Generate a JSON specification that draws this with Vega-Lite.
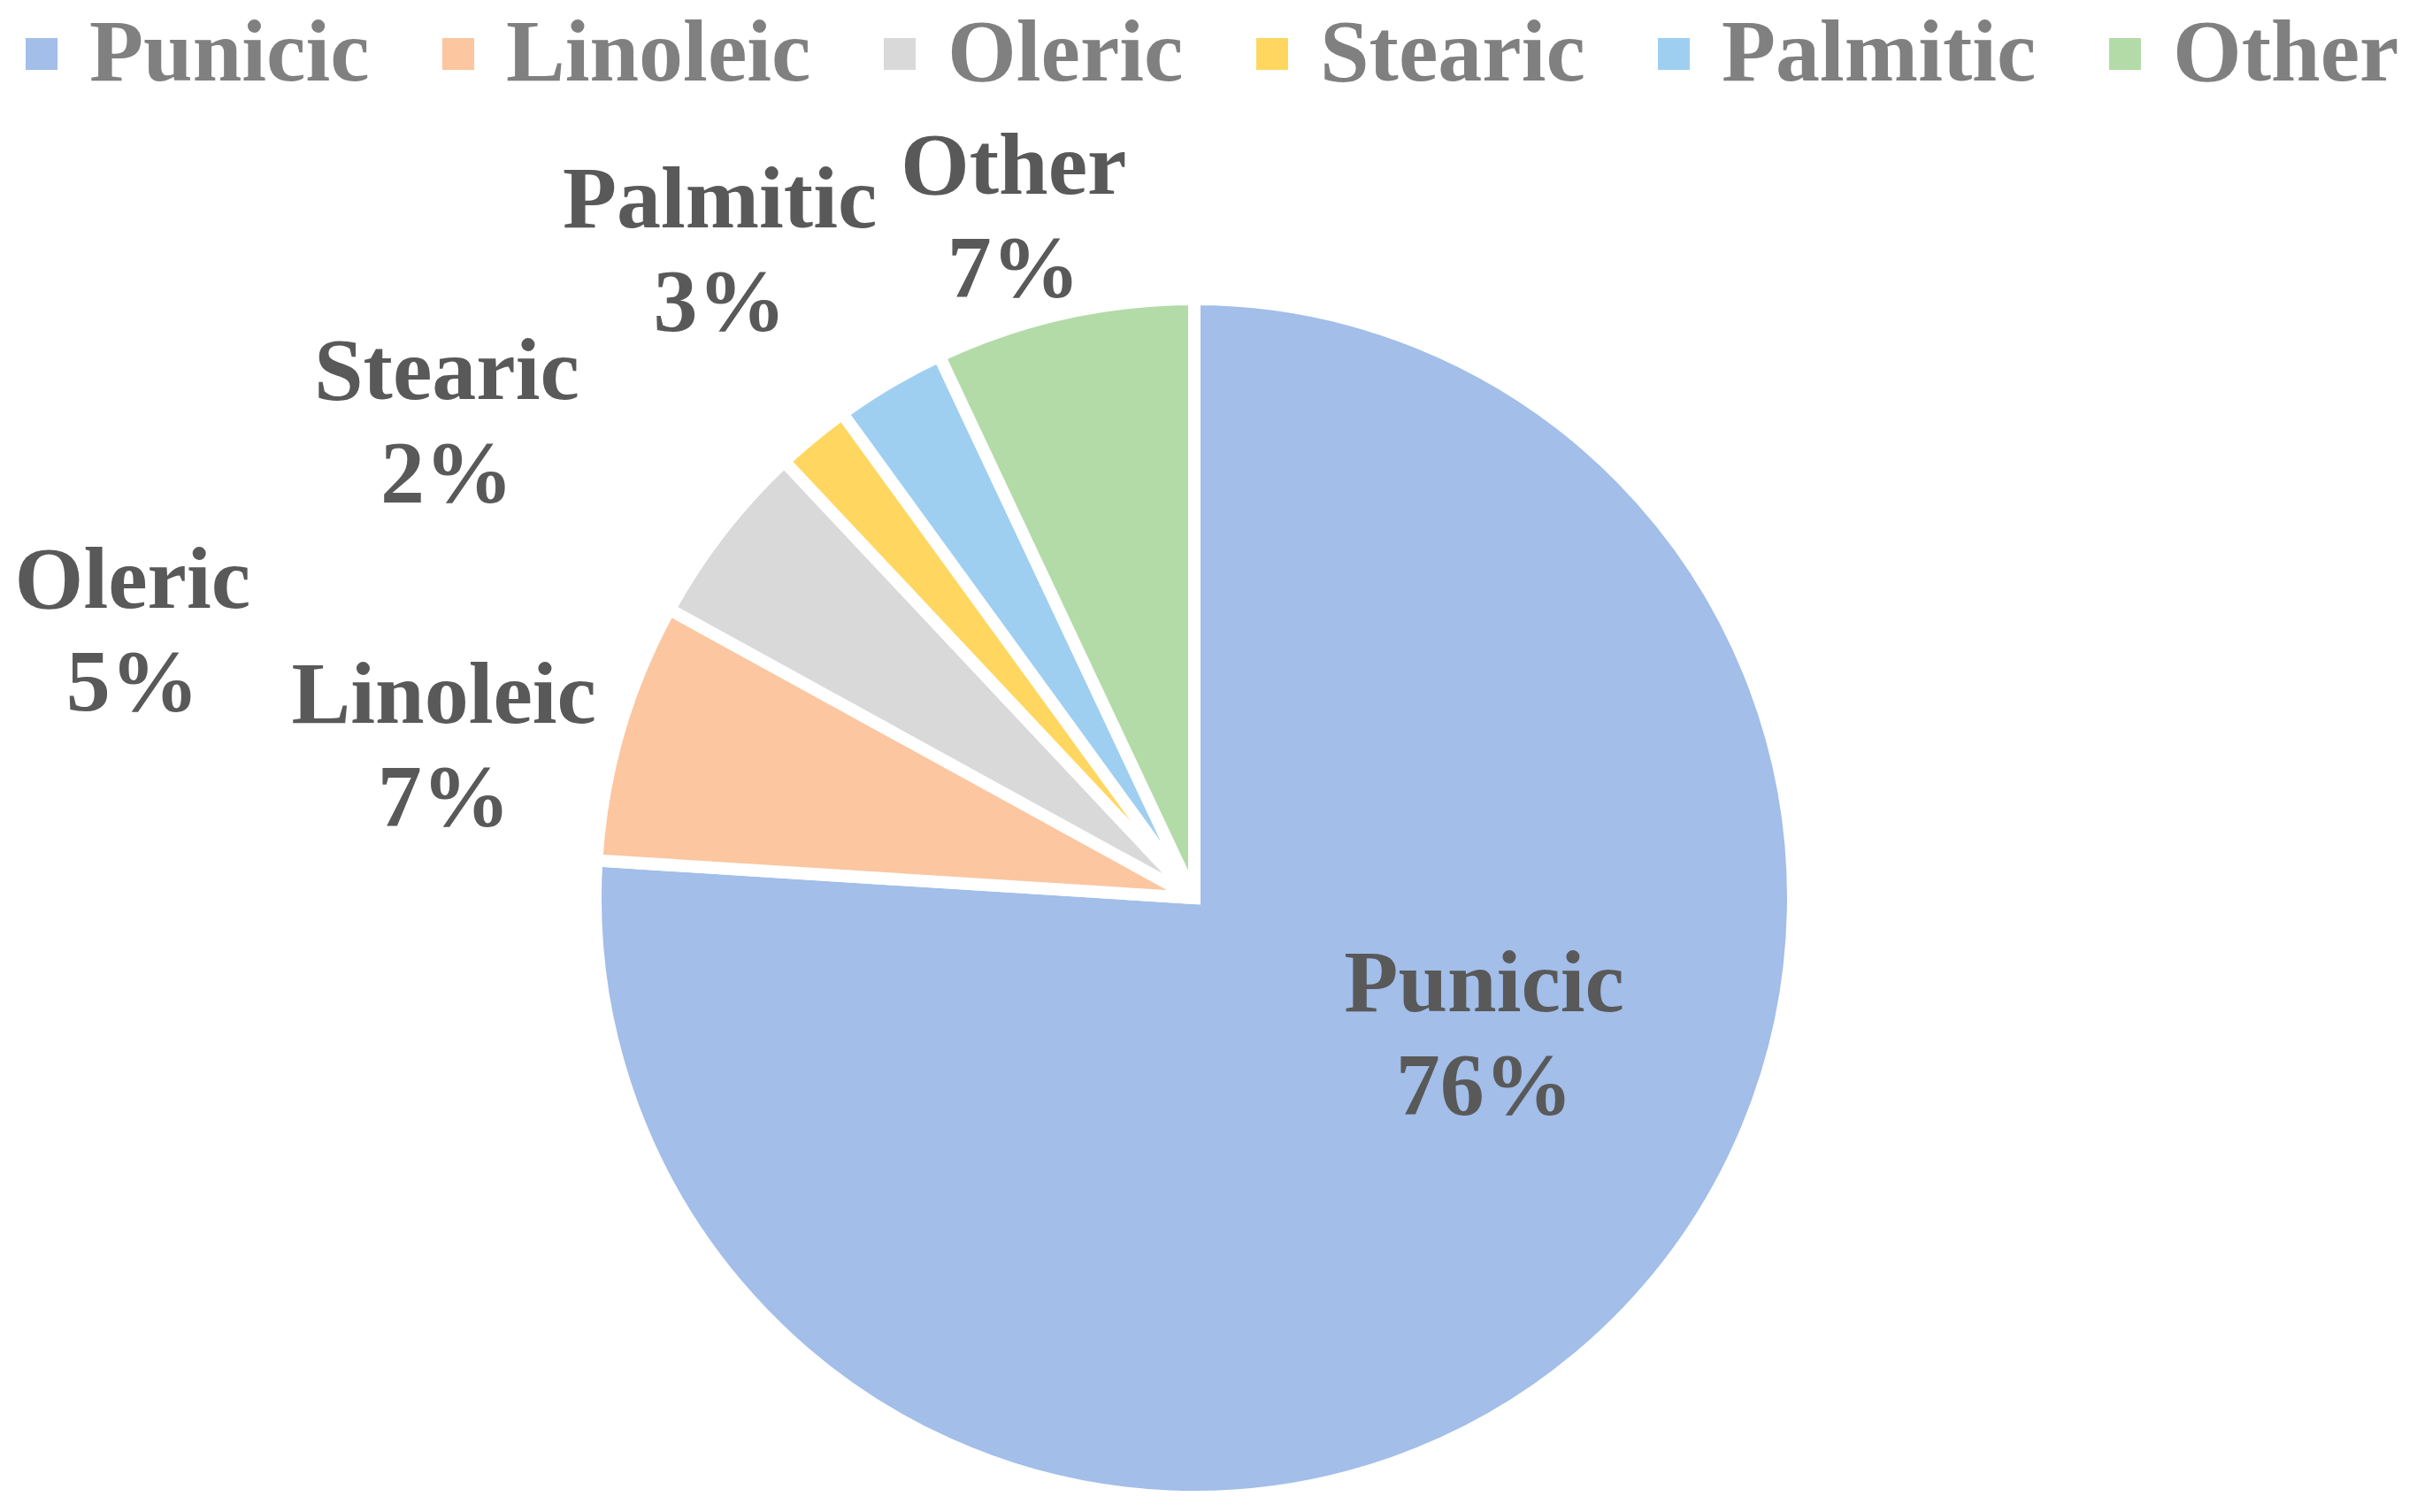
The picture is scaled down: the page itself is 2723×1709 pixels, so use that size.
{
  "$schema": "https://vega.github.io/schema/vega-lite/v6.json",
  "autosize": {"type": "none"},
  "width": 2700,
  "height": 1388,
  "padding": {"left": 0, "top": 321, "right": 23, "bottom": 0},
  "background": "white",
  "config": {"view": {"stroke": null}},
  "data": {
    "values": [
      {"acid": "Punicic", "share": 0.76, "ord": 1},
      {"acid": "Linoleic", "share": 0.07, "ord": 2},
      {"acid": "Oleric", "share": 0.05, "ord": 3},
      {"acid": "Stearic", "share": 0.02, "ord": 4},
      {"acid": "Palmitic", "share": 0.03, "ord": 5},
      {"acid": "Other", "share": 0.07, "ord": 6}
    ]
  },
  "encoding": {
    "theta": {"field": "share", "type": "quantitative", "stack": true},
    "order": {"field": "ord", "type": "quantitative"}
  },
  "layer": [
    {
      "mark": {"type": "arc", "outerRadius": 677, "stroke": "white", "strokeWidth": 14},
      "encoding": {
        "color": {
          "field": "acid", "type": "nominal",
          "scale": {
            "domain": ["Punicic", "Linoleic", "Oleric", "Stearic", "Palmitic", "Other"],
            "range": ["#A2BEE9", "#FCC6A0", "#D9D9D9", "#FFD760", "#9FCFF0", "#B3DBA8"]
          },
          "legend": {
            "title": null,
            "orient": "none",
            "legendX": -3,
            "legendY": -310,
            "direction": "horizontal",
            "columns": 6,
            "padding": 0,
            "symbolType": "square",
            "symbolSize": 1296,
            "symbolStrokeWidth": 0,
            "labelFont": "Liberation Serif",
            "labelFontWeight": "bold",
            "labelFontSize": 100,
            "labelColor": "#808080",
            "labelOffset": 4,
            "labelLimit": 0,
            "columnPadding": 50
          }
        }
      }
    },
    {
      "mark": {"type": "text", "radius": 363, "thetaOffset": -0.372, "dy": -58, "font": "Liberation Serif", "fontWeight": "bold", "fontSize": 100, "color": "#595959", "baseline": "middle", "align": "center"},
      "encoding": {"detail": {"field": "acid"}, "text": {"condition": {"test": "datum.acid === 'Punicic'", "field": "acid"}, "value": ""}}
    },
    {
      "mark": {"type": "text", "radius": 363, "thetaOffset": -0.372, "dy": 58, "font": "Liberation Serif", "fontWeight": "bold", "fontSize": 100, "color": "#595959", "baseline": "middle", "align": "center"},
      "encoding": {"detail": {"field": "acid"}, "text": {"condition": {"test": "datum.acid === 'Punicic'", "field": "share", "type": "quantitative", "format": ".0%"}, "value": ""}}
    },
    {
      "mark": {"type": "text", "radius": 865, "thetaOffset": -0.0855, "dy": -58, "font": "Liberation Serif", "fontWeight": "bold", "fontSize": 100, "color": "#595959", "baseline": "middle", "align": "center"},
      "encoding": {"detail": {"field": "acid"}, "text": {"condition": {"test": "datum.acid === 'Linoleic'", "field": "acid"}, "value": ""}}
    },
    {
      "mark": {"type": "text", "radius": 865, "thetaOffset": -0.0855, "dy": 58, "font": "Liberation Serif", "fontWeight": "bold", "fontSize": 100, "color": "#595959", "baseline": "middle", "align": "center"},
      "encoding": {"detail": {"field": "acid"}, "text": {"condition": {"test": "datum.acid === 'Linoleic'", "field": "share", "type": "quantitative", "format": ".0%"}, "value": ""}}
    },
    {
      "mark": {"type": "text", "radius": 1237, "thetaOffset": -0.415, "dy": -58, "font": "Liberation Serif", "fontWeight": "bold", "fontSize": 100, "color": "#595959", "baseline": "middle", "align": "center"},
      "encoding": {"detail": {"field": "acid"}, "text": {"condition": {"test": "datum.acid === 'Oleric'", "field": "acid"}, "value": ""}}
    },
    {
      "mark": {"type": "text", "radius": 1237, "thetaOffset": -0.415, "dy": 58, "font": "Liberation Serif", "fontWeight": "bold", "fontSize": 100, "color": "#595959", "baseline": "middle", "align": "center"},
      "encoding": {"detail": {"field": "acid"}, "text": {"condition": {"test": "datum.acid === 'Oleric'", "field": "share", "type": "quantitative", "format": ".0%"}, "value": ""}}
    },
    {
      "mark": {"type": "text", "radius": 1001, "thetaOffset": -0.314, "dy": -58, "font": "Liberation Serif", "fontWeight": "bold", "fontSize": 100, "color": "#595959", "baseline": "middle", "align": "center"},
      "encoding": {"detail": {"field": "acid"}, "text": {"condition": {"test": "datum.acid === 'Stearic'", "field": "acid"}, "value": ""}}
    },
    {
      "mark": {"type": "text", "radius": 1001, "thetaOffset": -0.314, "dy": 58, "font": "Liberation Serif", "fontWeight": "bold", "fontSize": 100, "color": "#595959", "baseline": "middle", "align": "center"},
      "encoding": {"detail": {"field": "acid"}, "text": {"condition": {"test": "datum.acid === 'Stearic'", "field": "share", "type": "quantitative", "format": ".0%"}, "value": ""}}
    },
    {
      "mark": {"type": "text", "radius": 906, "thetaOffset": -0.0995, "dy": -58, "font": "Liberation Serif", "fontWeight": "bold", "fontSize": 100, "color": "#595959", "baseline": "middle", "align": "center"},
      "encoding": {"detail": {"field": "acid"}, "text": {"condition": {"test": "datum.acid === 'Palmitic'", "field": "acid"}, "value": ""}}
    },
    {
      "mark": {"type": "text", "radius": 906, "thetaOffset": -0.0995, "dy": 58, "font": "Liberation Serif", "fontWeight": "bold", "fontSize": 100, "color": "#595959", "baseline": "middle", "align": "center"},
      "encoding": {"detail": {"field": "acid"}, "text": {"condition": {"test": "datum.acid === 'Palmitic'", "field": "share", "type": "quantitative", "format": ".0%"}, "value": ""}}
    },
    {
      "mark": {"type": "text", "radius": 795, "thetaOffset": -0.040, "dy": -58, "font": "Liberation Serif", "fontWeight": "bold", "fontSize": 100, "color": "#595959", "baseline": "middle", "align": "center"},
      "encoding": {"detail": {"field": "acid"}, "text": {"condition": {"test": "datum.acid === 'Other'", "field": "acid"}, "value": ""}}
    },
    {
      "mark": {"type": "text", "radius": 795, "thetaOffset": -0.040, "dy": 58, "font": "Liberation Serif", "fontWeight": "bold", "fontSize": 100, "color": "#595959", "baseline": "middle", "align": "center"},
      "encoding": {"detail": {"field": "acid"}, "text": {"condition": {"test": "datum.acid === 'Other'", "field": "share", "type": "quantitative", "format": ".0%"}, "value": ""}}
    }
  ]
}
